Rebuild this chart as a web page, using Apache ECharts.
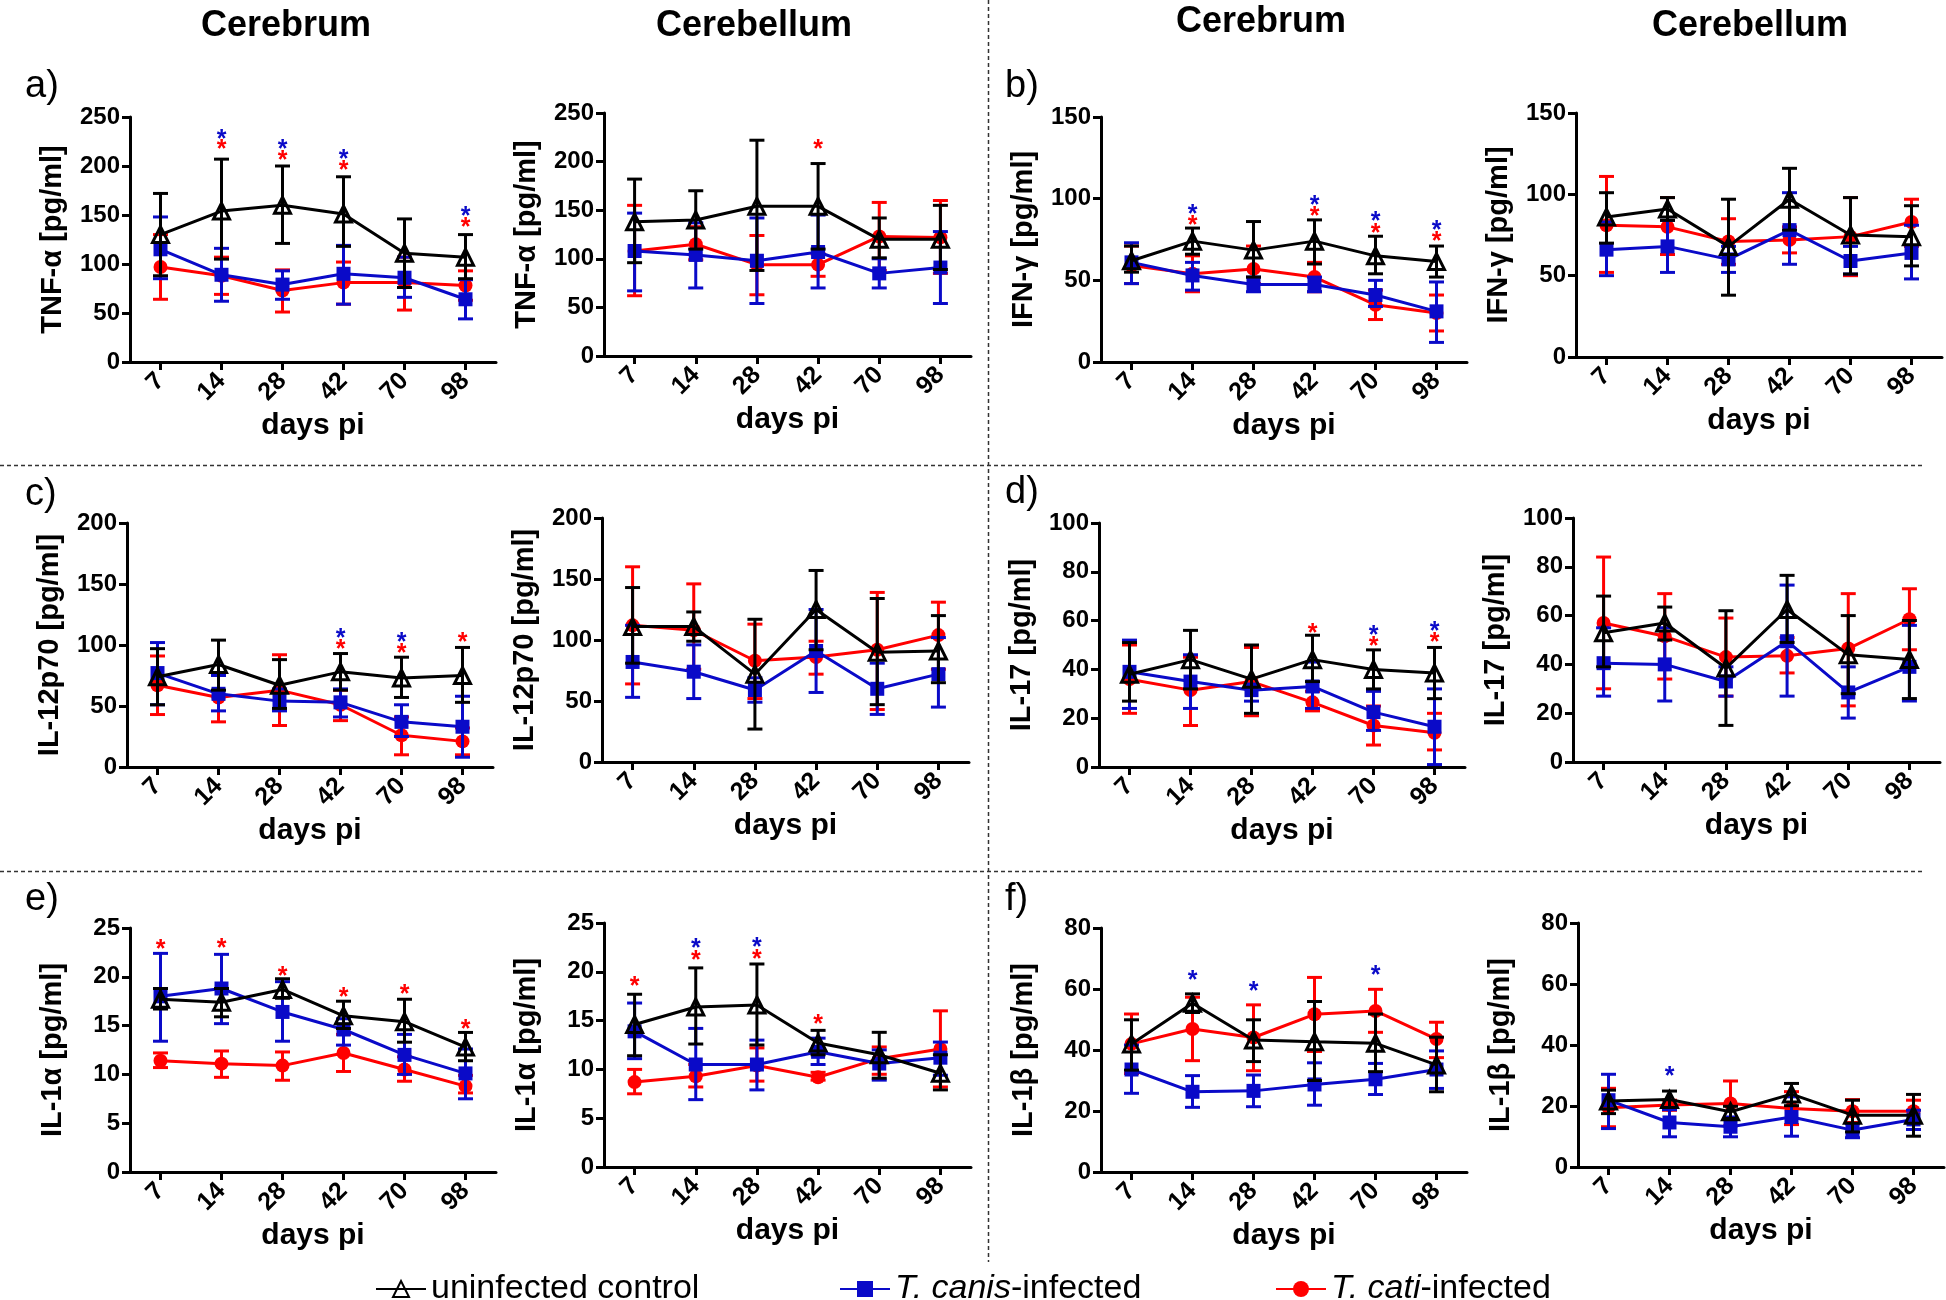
<!DOCTYPE html>
<html><head><meta charset="utf-8">
<script src="https://cdn.jsdelivr.net/npm/echarts@6/dist/echarts.min.js"></script>
<style>html,body{margin:0;padding:0;background:#fff}#c{width:1946px;height:1300px}</style>
</head><body><div id="c"></div>
<script>
// ---------- categories / tick labels ----------
const days = ['7','14','28','42','70','98'];
const seriesNames = ['uninfected control','T. canis-infected','T. cati-infected'];
const tnfTicks = [0,50,100,150,200,250];
const ifnTicks = [0,50,100,150];
const il12Ticks = [0,50,100,150,200];
const il17Ticks = [0,20,40,60,80,100];
const il1aTicks = [0,5,10,15,20,25];
const il1bTicks = [0,20,40,60,80];

// ---------- a) TNF-alpha ----------
const tnfCbrCtrl = [130,154,160,151,111,107];
const tnfCbrCtrlErr = [[88,172],[105,207],[121,200],[118,189],[76,146],[85,130]];
const tnfCbrCanis = [115,89,79,90,86,64];
const tnfCbrCanisErr = [[85,148],[62,116],[64,93],[59,119],[66,107],[44,84]];
const tnfCbrCati = [97,88,73,81,81,78];
const tnfCbrCatiErr = [[64,130],[69,107],[51,94],[59,102],[53,107],[63,93]];
const tnfCbrStars = [[1,232,'b'],[1,221,'r'],[2,221,'b'],[2,210,'r'],[3,211,'b'],[3,200,'r'],[5,153,'b'],[5,142,'r']];

const tnfCblCtrl = [138,140,154,154,120,120];
const tnfCblCtrlErr = [[96,182],[110,170],[88,222],[110,198],[101,142],[89,155]];
const tnfCblCanis = [108,104,98,107,85,91];
const tnfCblCanisErr = [[67,147],[70,137],[54,142],[70,145],[70,100],[54,128]];
const tnfCblCati = [108,115,94,94,123,122];
const tnfCblCatiErr = [[62,155],[99,133],[63,124],[82,105],[88,158],[85,160]];
const tnfCblStars = [[3,217,'r']];

// ---------- b) IFN-gamma ----------
const ifnCbrCtrl = [62,74,68.5,74,65,61.5];
const ifnCbrCtrlErr = [[55,71],[66,82],[52,86],[60,87],[54,77],[52,71]];
const ifnCbrCanis = [61,53,47.5,47.5,41,31];
const ifnCbrCanisErr = [[48,73],[44,61],[43,52],[43,52],[34,50],[12,49]];
const ifnCbrCati = [59,54,57,52,35,30];
const ifnCbrCatiErr = [[48,71],[43,65],[48,71],[43,61],[26,44],[19,41]];
const ifnCbrStars = [[1,93,'b'],[1,86.5,'r'],[3,98.5,'b'],[3,92,'r'],[4,88.5,'b'],[4,81.5,'r'],[5,83,'b'],[5,76.5,'r']];

const ifnCblCtrl = [86,91,68,97,75,74];
const ifnCblCtrlErr = [[70,101],[84,98],[38,97],[78,116],[51,98],[56,93]];
const ifnCblCanis = [66,68,60,78,59,64];
const ifnCblCanisErr = [[50,83],[52,84],[52,68],[57,101],[51,68],[48,81]];
const ifnCblCati = [81,80,71,72,74,83];
const ifnCblCatiErr = [[52,111],[63,98],[57,85],[64,80],[50,98],[68,97]];
const ifnCblStars = [];

// ---------- c) IL-12p70 ----------
const il12CbrCtrl = [74,84,67,78,73,75];
const il12CbrCtrlErr = [[51,97],[63,104],[48,88],[63,93],[57,90],[53,98]];
const il12CbrCanis = [77,60,54,53,37,33];
const il12CbrCanisErr = [[51,102],[46,75],[46,64],[41,64],[25,51],[8,58]];
const il12CbrCati = [67,57,63,51,26,21];
const il12CbrCatiErr = [[43,91],[37,75],[34,92],[38,63],[10,41],[10,32]];
const il12CbrStars = [[3,109,'b'],[3,100,'r'],[4,106,'b'],[4,97,'r'],[5,105.5,'r']];

const il12CblCtrl = [111,111,72,125,90,91];
const il12CblCtrlErr = [[81,143],[99,123],[27,117],[92,157],[47,134],[65,120]];
const il12CblCanis = [82,74,59,91,60,72];
const il12CblCanisErr = [[53,112],[52,96],[49,69],[57,125],[39,81],[45,102]];
const il12CblCati = [112,108,83,86,92,104];
const il12CblCatiErr = [[64,160],[76,146],[52,113],[72,99],[43,139],[76,131]];
const il12CblStars = [];

// ---------- d) IL-17 ----------
const il17CbrCtrl = [38,44,36,44,40,38.5];
const il17CbrCtrlErr = [[27,51],[32,56],[22,50],[35,54],[32,48],[28,49]];
const il17CbrCanis = [39,35,31.5,33,22.5,16.5];
const il17CbrCanisErr = [[24,52],[24,46],[27,34],[24,43],[15,31],[1,32]];
const il17CbrCati = [36,31.5,35,26.5,17,14];
const il17CbrCatiErr = [[22,50],[17,45],[21,49],[23,31],[9,25],[7,22]];
const il17CbrStars = [[3,56.5,'r'],[4,55.5,'b'],[4,51,'r'],[5,57.5,'b'],[5,53,'r']];

const il17CblCtrl = [53,57,38.5,62.5,44,42];
const il17CblCtrlErr = [[39,68],[50,63.5],[15,62],[49,76.5],[28,60],[26,58]];
const il17CblCanis = [40.5,40,33,49.5,28.5,39];
const il17CblCanisErr = [[27,55],[25,55],[27,39],[27,72.5],[18,39],[25,56]];
const il17CblCati = [57,51.5,43,43.5,46.5,58.5];
const il17CblCatiErr = [[30,84],[34,69],[27,59],[36.5,51],[23,69],[46,71]];
const il17CblStars = [];

// ---------- e) IL-1alpha ----------
const il1aCbrCtrl = [17.7,17.4,18.7,16,15.4,12.8];
const il1aCbrCtrlErr = [[16.7,18.8],[15.9,18.8],[17.8,19.8],[14.7,17.5],[13.3,17.7],[11.4,14.3]];
const il1aCbrCanis = [18,18.8,16.4,14.6,12,10.1];
const il1aCbrCanisErr = [[13.4,22.4],[15.2,22.3],[13.4,19.5],[13,15.7],[10,14.1],[7.5,12.6]];
const il1aCbrCati = [11.4,11.1,10.9,12.2,10.5,8.8];
const il1aCbrCatiErr = [[10.7,12.2],[9.7,12.4],[9.4,12.3],[10.3,14.1],[9.3,11.8],[8.1,9.9]];
const il1aCbrStars = [[0,23.2,'r'],[1,23.3,'r'],[2,20.5,'r'],[3,18.3,'r'],[4,18.6,'r'],[5,15.1,'r']];

const il1aCblCtrl = [14.6,16.4,16.6,12.7,11.5,9.6];
const il1aCblCtrlErr = [[11.4,17.7],[12.6,20.4],[12.5,20.8],[11.5,14],[9.1,13.8],[7.9,11.5]];
const il1aCblCanis = [13.9,10.5,10.5,11.8,10.6,11.2];
const il1aCblCanisErr = [[11.1,16.8],[6.9,14.2],[7.9,13],[10.5,13.2],[8.9,12],[9.4,12.8]];
const il1aCblCati = [8.7,9.3,10.4,9.2,11.1,12.1];
const il1aCblCatiErr = [[7.5,10],[8.2,10.5],[8.8,12.2],[8.9,9.7],[9.5,12.3],[8.2,16]];
const il1aCblStars = [[0,18.9,'r'],[1,22.8,'b'],[1,21.6,'r'],[2,22.9,'b'],[2,21.7,'r'],[3,15.1,'r']];

// ---------- f) IL-1beta ----------
const il1bCbrCtrl = [42,55.3,43.3,42.7,42.2,35.1];
const il1bCbrCtrlErr = [[33.4,49.9],[52.3,58.4],[36.2,49.9],[30,55.9],[32.9,51.8],[26.3,44.2]];
const il1bCbrCanis = [33.6,26.3,26.6,28.7,30.4,33.6];
const il1bCbrCanisErr = [[25.8,41.6],[21.2,31.6],[21.4,31.8],[21.9,35.8],[25.4,35.6],[27.4,39.7]];
const il1bCbrCati = [42,46.9,44.1,51.7,52.8,43.6];
const il1bCbrCatiErr = [[32.3,51.8],[36.5,57.3],[33.2,54.8],[39.5,63.8],[45.8,59.9],[37.5,49.1]];
const il1bCbrStars = [[1,64.3,'b'],[2,60.6,'b'],[4,65.8,'b']];

const il1bCblCtrl = [21.6,22.1,18.1,23.9,17,17];
const il1bCblCtrlErr = [[17.5,25.2],[19.5,24.9],[15.9,19.9],[20.1,27.4],[11.5,21.9],[10.1,23.8]];
const il1bCblCanis = [21.9,14.6,13.2,16.4,12.1,15.6];
const il1bCblCanisErr = [[12.6,30.4],[9.9,18.8],[9.9,16.4],[10.1,23],[9.6,14.2],[12.3,18.6]];
const il1bCblCati = [19.4,20.3,20.8,19.2,18.3,18.3];
const il1bCblCatiErr = [[13.2,25.8],[18.6,21.9],[13.5,28.2],[13.9,24.7],[14.6,22.1],[14.8,21.9]];
const il1bCblStars = [[1,31.2,'b']];

// ---------- styling / layout ----------
const FONT = '"Liberation Sans", Arial, Helvetica, sans-serif';
const RED = '#ff0000', BLUE = '#0a0ac8', BLACK = '#000000';
const starColor = {b: BLUE, r: RED};
const LW = 3;

const panels = [
  {ticks:tnfTicks, yName:'TNF-α [pg/ml]', d:[tnfCbrCtrl,tnfCbrCtrlErr,tnfCbrCanis,tnfCbrCanisErr,tnfCbrCati,tnfCbrCatiErr], stars:tnfCbrStars, g:[130,117,366,245]},
  {ticks:tnfTicks, yName:'TNF-α [pg/ml]', d:[tnfCblCtrl,tnfCblCtrlErr,tnfCblCanis,tnfCblCanisErr,tnfCblCati,tnfCblCatiErr], stars:tnfCblStars, g:[604,113,367,243]},
  {ticks:ifnTicks, yName:'IFN-γ [pg/ml]', d:[ifnCbrCtrl,ifnCbrCtrlErr,ifnCbrCanis,ifnCbrCanisErr,ifnCbrCati,ifnCbrCatiErr], stars:ifnCbrStars, g:[1101,117,366,245]},
  {ticks:ifnTicks, yName:'IFN-γ [pg/ml]', d:[ifnCblCtrl,ifnCblCtrlErr,ifnCblCanis,ifnCblCanisErr,ifnCblCati,ifnCblCatiErr], stars:ifnCblStars, g:[1576,113,366,244]},
  {ticks:il12Ticks, yName:'IL-12p70 [pg/ml]', d:[il12CbrCtrl,il12CbrCtrlErr,il12CbrCanis,il12CbrCanisErr,il12CbrCati,il12CbrCatiErr], stars:il12CbrStars, g:[127,523,366,244]},
  {ticks:il12Ticks, yName:'IL-12p70 [pg/ml]', d:[il12CblCtrl,il12CblCtrlErr,il12CblCanis,il12CblCanisErr,il12CblCati,il12CblCatiErr], stars:il12CblStars, g:[602,518,367,244]},
  {ticks:il17Ticks, yName:'IL-17 [pg/ml]', d:[il17CbrCtrl,il17CbrCtrlErr,il17CbrCanis,il17CbrCanisErr,il17CbrCati,il17CbrCatiErr], stars:il17CbrStars, g:[1099,523,366,244]},
  {ticks:il17Ticks, yName:'IL-17 [pg/ml]', d:[il17CblCtrl,il17CblCtrlErr,il17CblCanis,il17CblCanisErr,il17CblCati,il17CblCatiErr], stars:il17CblStars, g:[1573,518,367,244]},
  {ticks:il1aTicks, yName:'IL-1α [pg/ml]', d:[il1aCbrCtrl,il1aCbrCtrlErr,il1aCbrCanis,il1aCbrCanisErr,il1aCbrCati,il1aCbrCatiErr], stars:il1aCbrStars, g:[130,928,366,244]},
  {ticks:il1aTicks, yName:'IL-1α [pg/ml]', d:[il1aCblCtrl,il1aCblCtrlErr,il1aCblCanis,il1aCblCanisErr,il1aCblCati,il1aCblCatiErr], stars:il1aCblStars, g:[604,923,367,244]},
  {ticks:il1bTicks, yName:'IL-1β [pg/ml]', d:[il1bCbrCtrl,il1bCbrCtrlErr,il1bCbrCanis,il1bCbrCanisErr,il1bCbrCati,il1bCbrCatiErr], stars:il1bCbrStars, g:[1101,928,366,244]},
  {ticks:il1bTicks, yName:'IL-1β [pg/ml]', d:[il1bCblCtrl,il1bCblCtrlErr,il1bCblCanis,il1bCblCanisErr,il1bCblCati,il1bCblCatiErr], stars:il1bCblStars, g:[1578,923,366,244]}
];

function errRender(color){
  return function(params, api){
    const x = api.value(0);
    const p1 = api.coord([x, api.value(1)]);
    const p2 = api.coord([x, api.value(2)]);
    const hw = 7.5;
    const st = {stroke: color, lineWidth: LW};
    return {type:'group', children:[
      {type:'line', shape:{x1:p1[0], y1:p1[1], x2:p2[0], y2:p2[1]}, style:st},
      {type:'line', shape:{x1:p1[0]-hw, y1:p1[1], x2:p1[0]+hw, y2:p1[1]}, style:st},
      {type:'line', shape:{x1:p2[0]-hw, y1:p2[1], x2:p2[0]+hw, y2:p2[1]}, style:st}
    ]};
  };
}
function starRender(cols){
  return function(params, api){
    const p = api.coord([api.value(0), api.value(1)]);
    return {type:'text', x:p[0], y:p[1]+5, style:{text:'*', fill:cols[params.dataIndex], font:'bold 25px ' + FONT, align:'center', verticalAlign:'middle'}};
  };
}

const grid = [], xAxis = [], yAxis = [], series = [];
panels.forEach((p, i) => {
  grid.push({left:p.g[0], top:p.g[1], width:p.g[2], height:p.g[3], containLabel:false});
  xAxis.push({
    type:'category', gridIndex:i, data:days, boundaryGap:true,
    axisLine:{show:true, lineStyle:{color:'#000', width:3}},
    axisTick:{show:true, alignWithLabel:true, length:8, lineStyle:{color:'#000', width:3}},
    axisLabel:{interval:0, rotate:45, margin:15, color:'#000', fontSize:25, fontWeight:'bold', fontFamily:FONT},
    splitLine:{show:false},
    name:'days pi', nameLocation:'middle', nameGap:49,
    nameTextStyle:{color:'#000', fontSize:30, fontWeight:'bold', fontFamily:FONT}
  });
  const t = p.ticks;
  yAxis.push({
    type:'value', gridIndex:i, min:t[0], max:t[t.length-1], interval:t[1]-t[0],
    axisLine:{show:true, lineStyle:{color:'#000', width:3}},
    axisTick:{show:true, length:8, lineStyle:{color:'#000', width:3}},
    axisLabel:{margin:10, color:'#000', fontSize:24, fontWeight:'bold', fontFamily:FONT},
    splitLine:{show:false},
    name:p.yName, nameLocation:'middle', nameGap:63, nameRotate:90,
    nameTextStyle:{color:'#000', fontSize:29, fontWeight:'bold', fontFamily:FONT}
  });
  const defs = [
    {name:seriesNames[2], color:RED, mean:p.d[4], err:p.d[5], symbol:'circle', size:14, z:2},
    {name:seriesNames[1], color:BLUE, mean:p.d[2], err:p.d[3], symbol:'rect', size:14, z:4},
    {name:seriesNames[0], color:BLACK, mean:p.d[0], err:p.d[1], symbol:'triangle', size:16, z:6, hollow:true}
  ];
  defs.forEach(s => {
    series.push({
      type:'custom', name:s.name + ' SD', xAxisIndex:i, yAxisIndex:i, z:s.z, silent:true,
      data:s.err.map((e,k) => [k, e[0], e[1]]), encode:{x:0, y:[1,2]},
      renderItem:errRender(s.color)
    });
    series.push({
      type:'line', name:s.name, xAxisIndex:i, yAxisIndex:i, z:s.z+1,
      data:s.mean, symbol:s.symbol, symbolSize:s.size, showAllSymbol:true,
      lineStyle:{color:s.color, width:LW},
      itemStyle: s.hollow ? {color:'rgba(255,255,255,0)', borderColor:'#000', borderWidth:LW} : {color:s.color},
      emphasis:{disabled:true}
    });
  });
  if (p.stars.length) {
    series.push({
      type:'custom', name:'stars' + i, xAxisIndex:i, yAxisIndex:i, z:10, silent:true,
      data:p.stars.map(s => [s[0], s[1]]), encode:{x:0, y:1},
      renderItem:starRender(p.stars.map(s => starColor[s[2]]))
    });
  }
});

const legendBase = {
  selectedMode:false, orient:'horizontal', top:1267, itemWidth:50, itemHeight:20,
  textStyle:{color:'#000', fontSize:34, fontFamily:FONT,
    rich:{i:{fontStyle:'italic', fontSize:34, fontFamily:FONT, color:'#000'}, n:{fontSize:34, fontFamily:FONT, color:'#000'}}},
  formatter: function(name){
    if (name.indexOf('T. ') === 0) {
      const k = name.indexOf('-');
      return '{i|' + name.slice(0,k) + '}{n|' + name.slice(k) + '}';
    }
    return name;
  }
};
const legend = [
  Object.assign({}, legendBase, {left:370, data:[seriesNames[0]]}),
  Object.assign({}, legendBase, {left:834, data:[seriesNames[1]]}),
  Object.assign({}, legendBase, {left:1270, data:[seriesNames[2]]})
];

function txt(x, y, s, font, align){
  return {type:'text', x:x, y:y, silent:true, style:{text:s, font:font, fill:'#000', align:align || 'center', verticalAlign:'middle'}};
}
function dline(x1, y1, x2, y2){
  return {type:'line', silent:true, shape:{x1:x1, y1:y1, x2:x2, y2:y2}, style:{stroke:'#333', lineWidth:1.5, lineDash:[4,3]}};
}
const HF = 'bold 36px ' + FONT, LF = '38px ' + FONT;
const graphic = [
  dline(988.5, 0, 988.5, 1262),
  dline(0, 465.5, 1924, 465.5),
  dline(0, 871.5, 1924, 871.5),
  txt(286, 26, 'Cerebrum', HF), txt(754, 26, 'Cerebellum', HF),
  txt(1261, 22, 'Cerebrum', HF), txt(1750, 26, 'Cerebellum', HF),
  txt(25, 87, 'a)', LF, 'left'), txt(1005, 87, 'b)', LF, 'left'),
  txt(25, 495, 'c)', LF, 'left'), txt(1005, 493, 'd)', LF, 'left'),
  txt(25, 900, 'e)', LF, 'left'), txt(1005, 900, 'f)', LF, 'left')
];

const chart = echarts.init(document.getElementById('c'), null, {renderer:'canvas', width:1946, height:1300});
chart.setOption({
  backgroundColor:'#ffffff', animation:false,
  grid:grid, xAxis:xAxis, yAxis:yAxis, series:series, legend:legend, graphic:graphic
});
</script>
</body></html>
